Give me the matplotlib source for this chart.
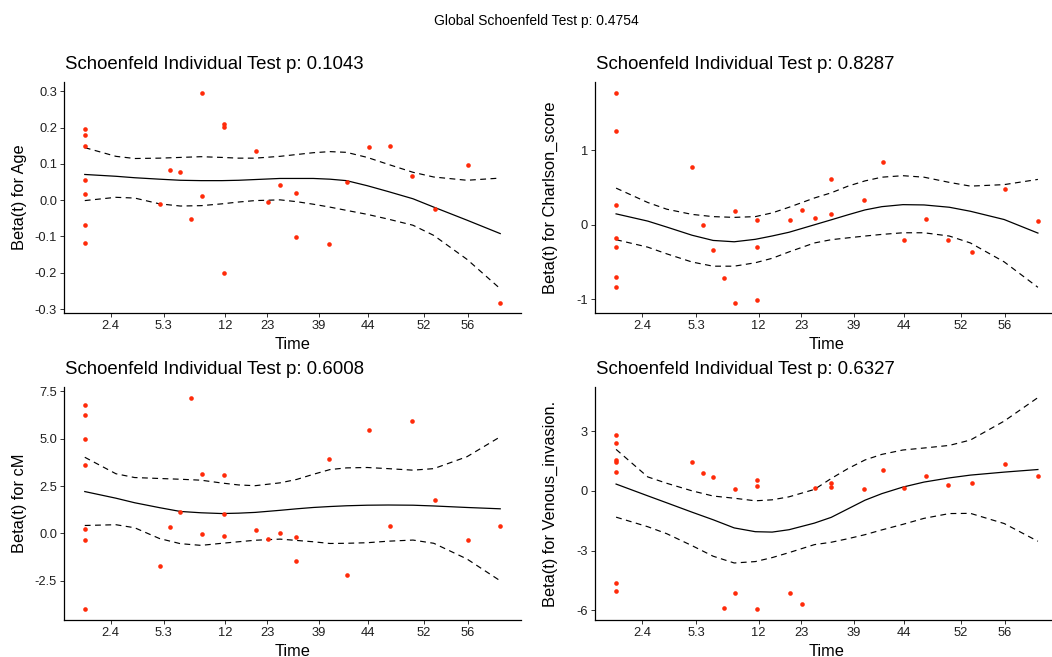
import matplotlib
matplotlib.use("Agg")
import matplotlib.pyplot as plt

plt.rcParams['font.family'] = ['Liberation Sans', 'DejaVu Sans']
plt.rcParams['axes.unicode_minus'] = False
plt.rcParams['lines.scale_dashes'] = False

# ---------------- data (x on the transformed time scale, 0..1) ----------------
global_title = "Global Schoenfeld Test p: 0.4754"
titles = ["Schoenfeld Individual Test p: 0.1043",
          "Schoenfeld Individual Test p: 0.8287",
          "Schoenfeld Individual Test p: 0.6008",
          "Schoenfeld Individual Test p: 0.6327"]
ylabels = ["Beta(t) for Age", "Beta(t) for Charlson_score",
           "Beta(t) for cM", "Beta(t) for Venous_invasion."]

x_tick_pos = [0.062, 0.190, 0.338, 0.439, 0.563, 0.682, 0.817, 0.922]
x_tick_labels = ["2.4", "5.3", "12", "23", "39", "44", "52", "56"]

point_x = [0, 0, 0, 0, 0, 0, 0,
           0.181, 0.205, 0.229, 0.255, 0.281, 0.281, 0.334, 0.334, 0.334,
           0.413, 0.440, 0.471, 0.509, 0.509, 0.587, 0.632, 0.683, 0.735,
           0.788, 0.844, 0.922, 1.0]

age_y = [0.196, 0.180, 0.150, 0.057, 0.016, -0.067, -0.119,
         -0.010, 0.083, 0.077, -0.052, 0.297, 0.013, 0.209, 0.201, -0.200,
         0.137, -0.006, 0.042, 0.019, -0.101, -0.120, 0.050, 0.146, 0.150,
         0.067, -0.023, 0.098, -0.282]
charlson_y = [1.778, 1.258, 0.271, -0.178, -0.298, -0.702, -0.836,
              0.773, 0.004, -0.338, -0.711, 0.182, -1.044, 0.062, -0.293, -1.009,
              0.067, 0.196, 0.098, 0.613, 0.151, 0.338, 0.849, -0.200, 0.084,
              -0.200, -0.364, 0.484, 0.049]
cm_y = [6.77, 6.27, 4.99, 3.62, 0.21, -0.35, -4.01,
        -1.74, 0.32, 1.12, 7.17, 3.13, -0.05, 3.09, 1.05, -0.12,
        0.19, -0.30, 0.00, -0.21, -1.48, 3.95, -2.21, 5.47, 0.39,
        5.96, 1.79, -0.37, 0.37]
venous_y = [2.80, 2.41, 1.56, 1.43, 0.97, -4.63, -5.03,
            1.44, 0.92, 0.69, -5.87, 0.08, -5.11, 0.55, 0.23, -5.95,
            -5.14, -5.66, 0.13, 0.40, 0.17, 0.07, 1.06, 0.13, 0.74,
            0.27, 0.39, 1.36, 0.72]

curve_x = [0, 0.075, 0.12, 0.18, 0.23, 0.28, 0.33, 0.37, 0.41, 0.47, 0.51,
           0.55, 0.59, 0.63, 0.68, 0.73, 0.79, 0.84, 0.92, 1.0]

age_fit = [0.071, 0.066, 0.062, 0.058, 0.055, 0.054, 0.054, 0.055, 0.057, 0.060, 0.060,
           0.060, 0.058, 0.054, 0.040, 0.024, 0.004, -0.019, -0.055, -0.092]
age_hi = [0.145, 0.121, 0.115, 0.116, 0.118, 0.120, 0.118, 0.116, 0.116, 0.121, 0.126,
          0.131, 0.134, 0.132, 0.118, 0.099, 0.077, 0.064, 0.055, 0.061]
age_lo = [-0.001, 0.008, 0.006, -0.010, -0.016, -0.015, -0.010, -0.005, -0.001, 0.001, -0.004,
          -0.011, -0.019, -0.028, -0.039, -0.052, -0.069, -0.097, -0.163, -0.244]

charlson_fit = [0.147, 0.050, -0.030, -0.140, -0.210, -0.228, -0.195, -0.150, -0.100, 0.000, 0.067,
                0.135, 0.200, 0.244, 0.271, 0.267, 0.236, 0.182, 0.071, -0.111]
charlson_hi = [0.493, 0.300, 0.210, 0.140, 0.110, 0.100, 0.110, 0.160, 0.236, 0.360, 0.430,
               0.520, 0.590, 0.640, 0.660, 0.640, 0.570, 0.520, 0.540, 0.610]
charlson_lo = [-0.200, -0.300, -0.390, -0.500, -0.556, -0.556, -0.510, -0.450, -0.364, -0.244, -0.200,
               -0.175, -0.151, -0.129, -0.107, -0.107, -0.151, -0.244, -0.498, -0.840]

cm_fit = [2.21, 1.86, 1.62, 1.36, 1.16, 1.09, 1.05, 1.07, 1.11, 1.22, 1.30,
          1.37, 1.42, 1.46, 1.49, 1.50, 1.49, 1.45, 1.37, 1.30]
cm_hi = [4.02, 3.15, 2.95, 2.90, 2.86, 2.81, 2.66, 2.56, 2.52, 2.67, 2.85,
         3.12, 3.37, 3.46, 3.48, 3.42, 3.34, 3.42, 4.05, 5.10]
cm_lo = [0.42, 0.46, 0.30, -0.27, -0.54, -0.63, -0.52, -0.44, -0.36, -0.30, -0.37,
         -0.44, -0.53, -0.52, -0.49, -0.41, -0.35, -0.52, -1.35, -2.50]

venous_fit = [0.34, -0.25, -0.60, -1.07, -1.45, -1.86, -2.05, -2.07, -1.95, -1.62, -1.33,
              -0.90, -0.47, -0.14, 0.19, 0.44, 0.65, 0.79, 0.94, 1.07]
venous_hi = [2.08, 0.70, 0.38, 0.00, -0.26, -0.37, -0.50, -0.45, -0.30, 0.07, 0.62,
             1.12, 1.55, 1.83, 2.05, 2.15, 2.28, 2.55, 3.50, 4.68]
venous_lo = [-1.32, -1.80, -2.15, -2.75, -3.28, -3.62, -3.55, -3.35, -3.10, -2.70, -2.58,
             -2.40, -2.20, -1.96, -1.68, -1.38, -1.14, -1.13, -1.64, -2.53]

y_ticks = [[-0.3, -0.2, -0.1, 0.0, 0.1, 0.2, 0.3],
           [-1, 0, 1],
           [-2.5, 0.0, 2.5, 5.0, 7.5],
           [-6, -3, 0, 3]]
y_tick_labels = [["-0.3", "-0.2", "-0.1", "0.0", "0.1", "0.2", "0.3"],
                 ["-1", "0", "1"],
                 ["-2.5", "0.0", "2.5", "5.0", "7.5"],
                 ["-6", "-3", "0", "3"]]

series = [(age_y, age_fit, age_hi, age_lo),
          (charlson_y, charlson_fit, charlson_hi, charlson_lo),
          (cm_y, cm_fit, cm_hi, cm_lo),
          (venous_y, venous_fit, venous_hi, venous_lo)]

# ---------------- layout (pixels) ----------------
W, H = 1052, 657
fig = plt.figure(figsize=(W / 100, H / 100), dpi=100)

rects = [(64, 521, 82, 313), (595, 1059, 82, 313),
         (64, 521, 387, 620), (595, 1059, 387, 620)]

point_color = "#FF2B0A"
dash = (0, (4.2, 3.2))

for i, (l, r, t, b) in enumerate(rects):
    ax = fig.add_axes([l / W, 1 - b / H, (r - l) / W, (b - t) / H])
    ys, fit, hi, lo = series[i]
    ax.scatter(point_x, ys, s=11, color=point_color, linewidths=0, zorder=3)
    ax.plot(curve_x, fit, color="black", lw=0.9, solid_joinstyle="round", zorder=2)
    ax.plot(curve_x, hi, color="black", lw=0.85, linestyle=dash, zorder=2)
    ax.plot(curve_x, lo, color="black", lw=0.85, linestyle=dash, zorder=2)
    ax.set_xlim(-0.05, 1.05)
    ax.margins(y=0.05)
    ax.set_xticks(x_tick_pos)
    ax.set_xticklabels(x_tick_labels)
    ax.set_yticks(y_ticks[i])
    ax.set_yticklabels(y_tick_labels[i])
    for s in ("top", "right"):
        ax.spines[s].set_visible(False)
    for s in ("left", "bottom"):
        ax.spines[s].set_linewidth(0.9)
        ax.spines[s].set_color("black")
    ax.tick_params(axis="both", length=2.8, width=0.7, color="#333333",
                   labelsize=9.3, labelcolor="#1f1f1f", pad=2.2)
    ax.patch.set_alpha(0)

    # panel title
    fig.text((l + 1) / W, 1 - (t - 12.7) / H, titles[i], fontsize=13.4,
             ha="left", va="baseline", color="black")
    # y label
    fig.text((l - 44.5) / W, 1 - ((t + b) / 2) / H, ylabels[i], fontsize=11.8,
             rotation=90, ha="center", va="center", color="black")
    # x label
    fig.text(((l + r) / 2) / W, 1 - (b + 36) / H, "Time", fontsize=11.8,
             ha="center", va="baseline", color="black")

fig.text(536 / W, 1 - 25 / H, global_title, fontsize=10, ha="center",
         va="baseline", color="black")

fig.savefig("out.png", dpi=100, facecolor="white")
